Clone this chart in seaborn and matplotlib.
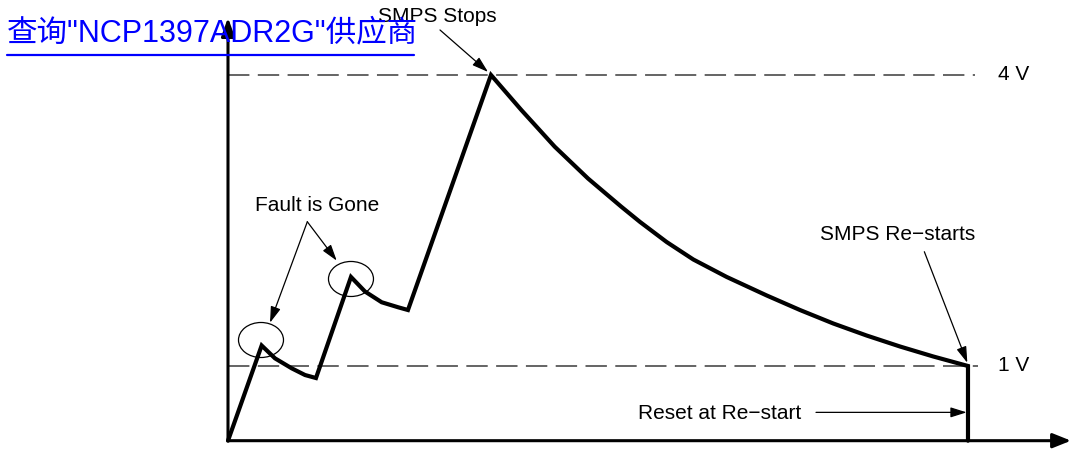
import matplotlib
matplotlib.use("Agg")
import matplotlib.pyplot as plt
from matplotlib.patches import Ellipse
import pandas as pd
import seaborn as sns

# Time axis in arbitrary units (restart at t = 10), voltage in volts.
v_floor = 0.23  # level where the time axis sits

# Capacitor voltage during a fault: two charge/discharge cycles, ramp to 4 V,
# then slow discharge until the 1 V restart threshold is reached.
trace_t = [0.00,
           0.455, 0.635, 0.861, 1.041, 1.189,
           1.662, 1.851, 2.077, 2.301, 2.432,
           3.554, 3.964, 4.415, 4.865, 5.315, 5.568, 5.928, 6.288, 6.739,
           7.280, 7.730, 8.180, 8.631, 9.081, 9.531, 10.00,
           10.00]
trace_v = [0.23,
           1.211, 1.079, 0.976, 0.907, 0.876,
           1.918, 1.768, 1.657, 1.605, 1.577,
           4.000, 3.639, 3.261, 2.933, 2.642, 2.485, 2.278, 2.098, 1.918,
           1.727, 1.577, 1.438, 1.314, 1.201, 1.098, 1.000,
           0.23]

# Threshold levels and their labels
levels = [4.0, 1.0]
level_labels = ["4 V", "1 V"]
level_end_t = [10.10, 10.13]

# "Fault is Gone" markers (ellipse centers)
fault_t = [0.446, 1.662]
fault_v = [1.268, 1.897]

title_text = '查询"NCP1397ADR2G"供应商'

sns.set_theme(style="white")
plt.rcParams["font.family"] = ["Liberation Sans", "Noto Sans CJK SC", "DejaVu Sans"]
plt.rcParams["text.color"] = "black"

fig = plt.figure(figsize=(10.71, 4.51), dpi=100)
ax = fig.add_axes([0, 0, 1, 1])
ax.set_xlim(-3.081, 11.392)
ax.set_ylim(0.1237, 4.773)
ax.axis("off")

# Axes drawn as arrows
ax.annotate("", xy=(11.392, v_floor), xytext=(0, v_floor),
            arrowprops=dict(arrowstyle="-|>,head_length=0.55,head_width=0.22",
                            lw=2.2, color="black", shrinkA=0, shrinkB=0,
                            mutation_scale=20))
ax.annotate("", xy=(0, 4.59), xytext=(0, v_floor),
            arrowprops=dict(arrowstyle="-|>,head_length=0.55,head_width=0.2",
                            lw=2.2, color="black", shrinkA=0, shrinkB=0,
                            mutation_scale=20))

# Threshold dashed lines
for lv, lab, te in zip(levels, level_labels, level_end_t):
    ax.plot([0, te], [lv, lv], color="#3a3a3a", lw=1.1, dashes=(14, 5.5))
    ax.text(10.61, lv, lab, ha="center", va="center", fontsize=15, color="black")

# Voltage trace
df = pd.DataFrame({"t": trace_t, "v": trace_v})
sns.lineplot(data=df, x="t", y="v", sort=False, estimator=None, color="black",
             lw=3.0, ax=ax, solid_joinstyle="miter")

# Fault markers
for ft, fv in zip(fault_t, fault_v):
    ax.add_patch(Ellipse((ft, fv), width=0.608, height=0.361, fill=False,
                         edgecolor="black", lw=0.9))

arrow_kw = dict(arrowstyle="-|>,head_length=0.7,head_width=0.22",
                lw=0.9, color="black", shrinkA=0, shrinkB=0, mutation_scale=14)

# Annotations
ax.text(2.831, 4.598, "SMPS Stops", ha="center", va="center", fontsize=15, color="black")
ax.annotate("", xy=(3.514, 4.031), xytext=(2.865, 4.464), arrowprops=arrow_kw)

ax.text(1.203, 2.655, "Fault is Gone", ha="center", va="center", fontsize=15, color="black")
ax.annotate("", xy=(0.568, 1.446), xytext=(1.072, 2.487), arrowprops=arrow_kw)
ax.annotate("", xy=(1.469, 2.086), xytext=(1.072, 2.487), arrowprops=arrow_kw)

ax.text(9.054, 2.351, "SMPS Re\u2212starts", ha="center", va="center", fontsize=15, color="black")
ax.annotate("", xy=(9.991, 1.033), xytext=(9.410, 2.178), arrowprops=arrow_kw)

ax.text(6.649, 0.515, "Reset at Re\u2212start", ha="center", va="center", fontsize=15, color="black")
ax.annotate("", xy=(9.982, 0.522), xytext=(7.946, 0.522), arrowprops=arrow_kw)

# Blue underlined heading
fig.text(7 / 1071, 1 - 33 / 451, title_text, ha="left", va="center",
         fontsize=22, color="#0000ff",
         family=["Liberation Sans", "Noto Sans CJK SC", "DejaVu Sans"])
fig.add_artist(plt.Line2D([7 / 1071, 414 / 1071], [1 - 55 / 451, 1 - 55 / 451],
                          color="#0000ff", lw=1.6, transform=fig.transFigure))

fig.savefig("out.png", dpi=100)
